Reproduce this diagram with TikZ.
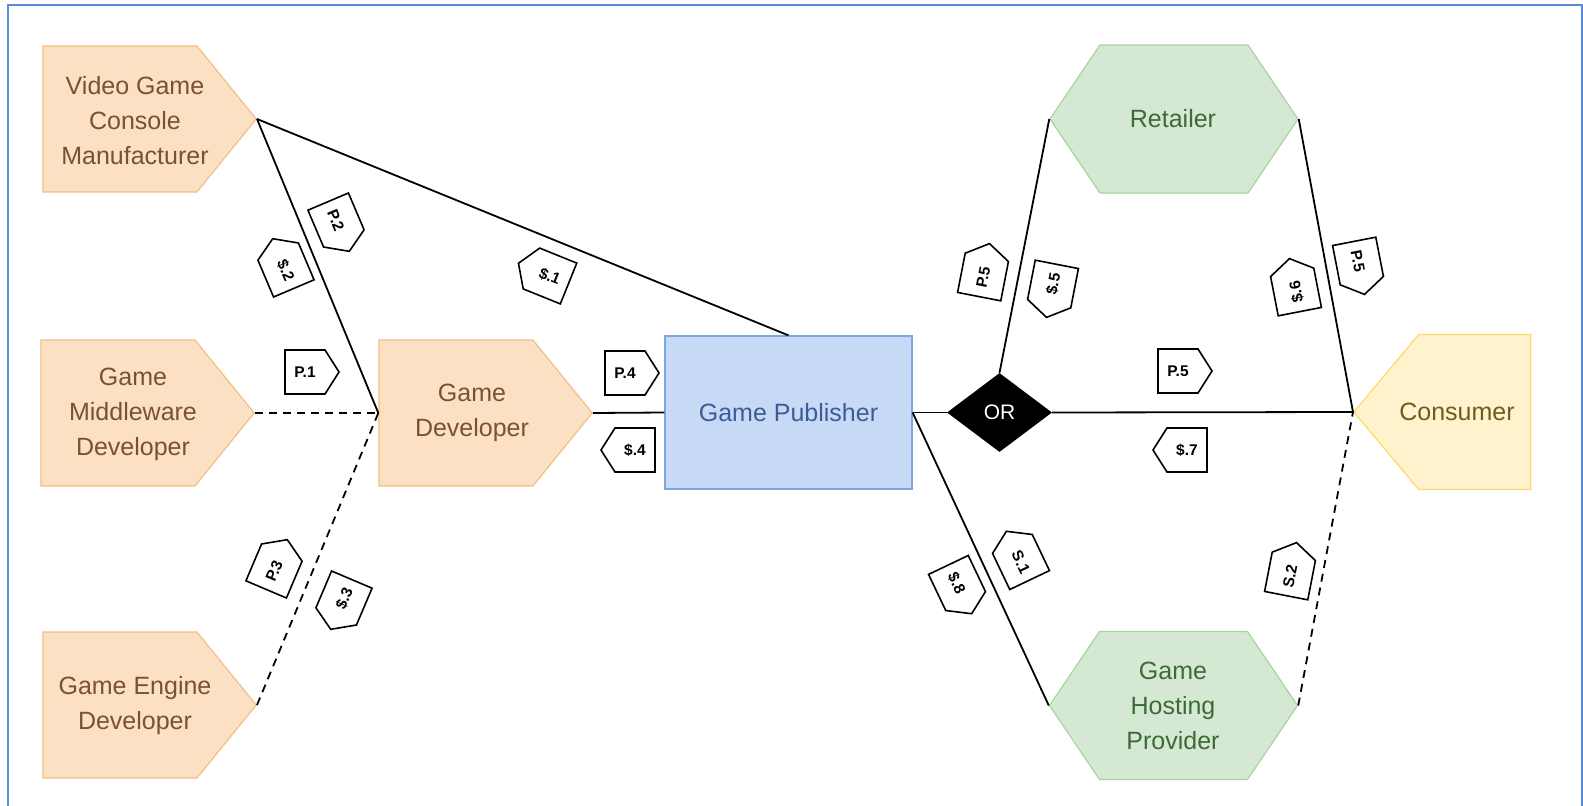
\documentclass[tikz,border=0pt]{standalone}
\usepackage{fontspec}
\setmainfont{Liberation Sans}
\usetikzlibrary{shapes.symbols,shapes.geometric}
\definecolor{orfill}{HTML}{FCE0C4}
\definecolor{ordraw}{HTML}{F4BE86}
\definecolor{ortxt}{HTML}{7A5230}
\definecolor{blfill}{HTML}{C7DAF5}
\definecolor{bldraw}{HTML}{7EA6E0}
\definecolor{bltxt}{HTML}{3D5C99}
\definecolor{grfill}{HTML}{D5E8D4}
\definecolor{grdraw}{HTML}{A9D4A0}
\definecolor{grtxt}{HTML}{3E6B35}
\definecolor{yefill}{HTML}{FFF2CC}
\definecolor{yedraw}{HTML}{FFD966}
\definecolor{yetxt}{HTML}{6B5E20}
\definecolor{framecol}{HTML}{5B8BD6}
\begin{document}
\begin{tikzpicture}[x=1pt,y=-1pt,
  orbox/.style={signal, signal to=east, signal pointer angle=101.8, fill=orfill, draw=ordraw, line width=1.2pt, inner xsep=77pt, inner ysep=73pt, minimum size=0pt, anchor=east},
  hexbox/.style={signal, signal to=east and west, signal pointer angle=111.9, fill=grfill, draw=grdraw, line width=1.2pt, inner xsep=74pt, inner ysep=74pt, minimum size=0pt},
  conbox/.style={signal, signal to=west, signal pointer angle=100.1, fill=yefill, draw=yedraw, line width=1.2pt, inner xsep=56pt, inner ysep=77.5pt, minimum size=0pt, anchor=west},
  bigtext/.style={font=\fontsize{25}{35}\selectfont, align=center, inner sep=0pt},
  tagR/.style={signal, signal to=east, draw=black, fill=white, line width=1.6pt, signal pointer angle=115, font=\bfseries\fontsize{15.5}{15.5}\selectfont, text width=26pt, align=center, text height=11pt, text depth=0pt, inner xsep=7pt, inner ysep=16.5pt},
  tagL/.style={tagR, signal to=west},
  conn/.style={line width=1.8pt, black},
  dconn/.style={conn, dash pattern=on 8pt off 6pt},
]
\useasboundingbox (0,0) rectangle (1583,806);
\fill[white] (0,0) rectangle (1583,806);
\draw[framecol, line width=2pt] (8,806) -- (8,5) -- (1582,5) -- (1582,806);

% shapes
\node[orbox] (vgcm) at (257,119) {};
\node[orbox] (mid) at (255,413) {};
\node[orbox] (eng) at (257,705) {};
\node[orbox] (dev) at (593,413) {};
\node[draw=bldraw, fill=blfill, line width=1.2pt, minimum width=247pt, minimum height=153pt, bigtext, text=bltxt] (pub) at (788.5,412.5) {Game Publisher};
\node[diamond, fill=black, minimum width=105pt, minimum height=79pt, inner sep=0pt, text=white, font=\fontsize{21}{21}\selectfont] (or) at (999.5,412.5) {OR};
\node[hexbox] (ret) at (1174,119) {};
\node[hexbox] (host) at (1173.5,705.5) {};
\node[conbox] (cons) at (1353,412) {};

% texts
\node[bigtext, text=ortxt] (t1) at (135,121) {Video Game\\Console\\Manufacturer};
\node[bigtext, text=ortxt] (t2) at (133,414) {Game\\Middleware\\Developer};
\node[bigtext, text=ortxt] (t3) at (135,706) {Game Engine\\Developer};
\node[bigtext, text=ortxt] (t4) at (472,413) {Game\\Developer};
\node[bigtext, text=grtxt] (t5) at (1173,119) {Retailer};
\node[bigtext, text=grtxt] (t6) at (1173,706) {Game\\Hosting\\Provider};
\node[bigtext, text=yetxt] (t7) at (1457,412) {Consumer};

% connectors
\draw[conn] (vgcm.east) -- (pub.north);
\draw[conn] (vgcm.east) -- (dev.west);
\draw[dconn] (mid.east) -- (dev.west);
\draw[dconn] (eng.east) -- (dev.west);
\draw[conn] (dev.east) -- (pub.west);
\draw[conn] (pub.east) -- (or.west);
\draw[conn] (or.east) -- (cons.west);
\draw[conn] (or.north) -- (ret.west);
\draw[conn] (ret.east) -- (cons.west);
\draw[conn] (pub.east) -- (host.west);
\draw[dconn] (host.east) -- (cons.west);

% tags
\node[tagL, rotate=-67] (d2) at (286,270) {\$.2};
\node[tagR, rotate=-67] (p2) at (336,220) {P.2};
\node[tagL, rotate=-22] (d1) at (550,276) {\$.1};
\node[tagR] (p1) at (305,372) {P.1};
\node[tagR, rotate=67] (p3) at (274,571) {P.3};
\node[tagL, rotate=67] (d3) at (344,598) {\$.3};
\node[tagR] (p4) at (625,373) {P.4};
\node[tagL] (d4) at (635,450) {\$.4};
\node[tagR, rotate=79] (p5a) at (983,277) {P.5};
\node[tagL, rotate=79] (d5) at (1053,284) {\$.5};
\node[tagR] (p5b) at (1178,371) {P.5};
\node[tagL] (d7) at (1187,450) {\$.7};
\node[tagR, rotate=101] (d6) at (1296,292) {\$.6};
\node[tagR, rotate=-79] (p5c) at (1358,261) {P.5};
\node[tagL, rotate=-64.5] (s1) at (1021,562) {S.1};
\node[tagR, rotate=-64.5] (d8) at (957,583) {\$.8};
\node[tagR, rotate=79] (s2) at (1290,576) {S.2};
\end{tikzpicture}
\end{document}
